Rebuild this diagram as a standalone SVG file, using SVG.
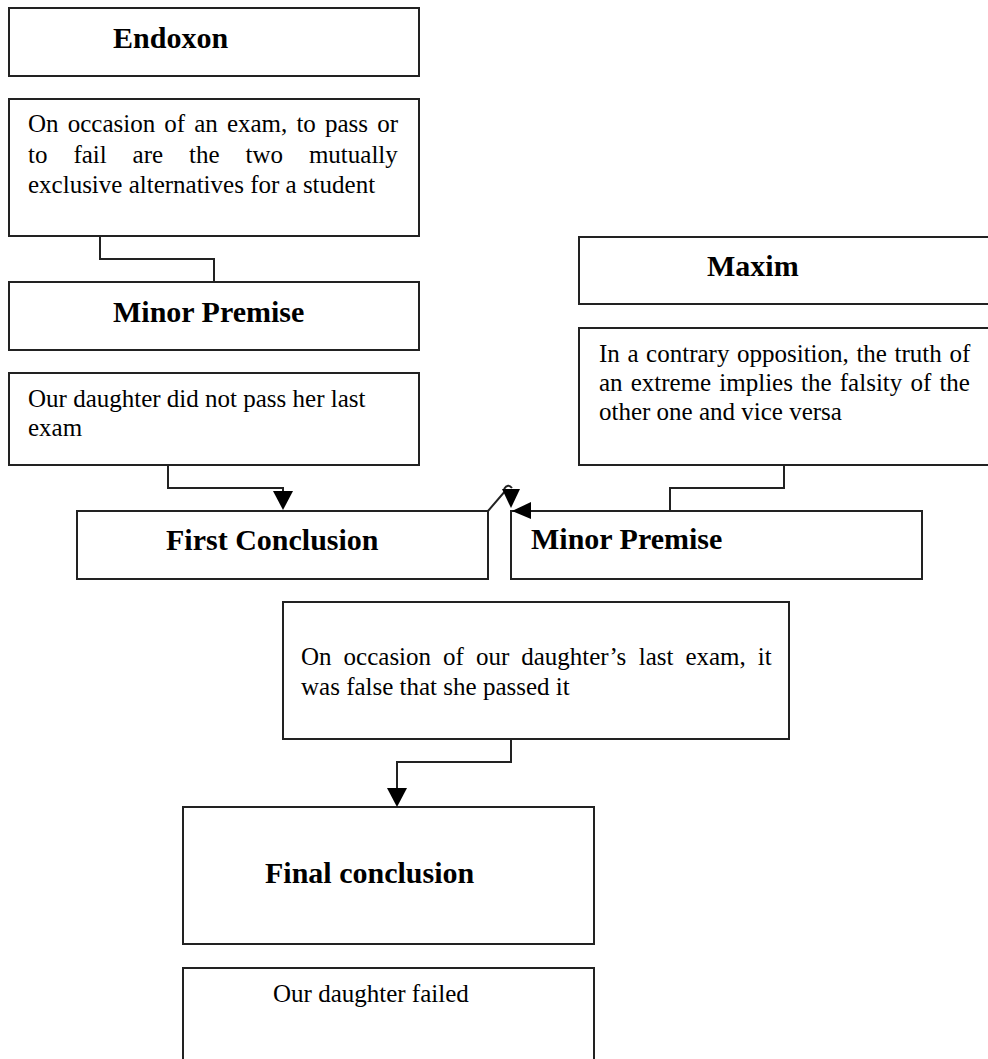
<svg xmlns="http://www.w3.org/2000/svg" width="988" height="1059" viewBox="0 0 988 1059">
<defs>
<style>
.box{fill:#fff;stroke:#222;stroke-width:2}
.line{fill:none;stroke:#222;stroke-width:2}
.head{fill:#000;stroke:none}
.h{font-family:"Liberation Serif","Times New Roman",serif;font-weight:bold;font-size:30px;fill:#000}
.t{font-family:"Liberation Serif","Times New Roman",serif;font-size:25px;fill:#000}
</style>
</defs>
<rect width="988" height="1059" fill="#fff"/>
<g id="endoxon">
<rect class="box" x="9" y="8" width="410" height="68"/>
<text class="h" x="113" y="48">Endoxon</text>
</g>
<g id="endoxon-text">
<rect class="box" x="9" y="99" width="410" height="137"/>
<text class="t" y="132"><tspan x="28">On</tspan><tspan x="67.7">occasion</tspan><tspan x="164.3">of</tspan><tspan x="194.2">an</tspan><tspan x="226.9">exam,</tspan><tspan x="296.4">to</tspan><tspan x="325">pass</tspan><tspan x="377.2">or</tspan></text>
<text class="t" y="163"><tspan x="28">to</tspan><tspan x="73.4">fail</tspan><tspan x="132.6">are</tspan><tspan x="189">the</tspan><tspan x="245.5">two</tspan><tspan x="308.9">mutually</tspan></text>
<text class="t" x="28" y="193">exclusive alternatives for a student</text>
</g>
<g id="minor-premise-1">
<rect class="box" x="9" y="282" width="410" height="68"/>
<text class="h" x="113" y="322">Minor Premise</text>
</g>
<g id="minor-premise-1-text">
<rect class="box" x="9" y="373" width="410" height="92"/>
<text class="t" x="28" y="407">Our daughter did not pass her last</text>
<text class="t" x="28" y="436">exam</text>
</g>
<g id="maxim">
<rect class="box" x="579" y="237" width="420" height="67"/>
<text class="h" x="707" y="276">Maxim</text>
</g>
<g id="maxim-text">
<rect class="box" x="579" y="328" width="420" height="137"/>
<text class="t" y="362"><tspan x="599">In</tspan><tspan x="627.4">a</tspan><tspan x="646.1">contrary</tspan><tspan x="737">opposition,</tspan><tspan x="856.4">the</tspan><tspan x="894.6">truth</tspan><tspan x="949.4">of</tspan></text>
<text class="t" y="391"><tspan x="599">an</tspan><tspan x="630.7">extreme</tspan><tspan x="719.3">implies</tspan><tspan x="801">the</tspan><tspan x="839.8">falsity</tspan><tspan x="910.4">of</tspan><tspan x="939.4">the</tspan></text>
<text class="t" x="599" y="420">other one and vice versa</text>
</g>
<g id="first-conclusion">
<rect class="box" x="77" y="511" width="411" height="68"/>
<text class="h" x="166" y="550">First Conclusion</text>
</g>
<g id="minor-premise-2">
<rect class="box" x="511" y="511" width="411" height="68"/>
<text class="h" x="531" y="549">Minor Premise</text>
</g>
<g id="first-conclusion-text">
<rect class="box" x="283" y="602" width="506" height="137"/>
<text class="t" y="665"><tspan x="301">On</tspan><tspan x="343.6">occasion</tspan><tspan x="443.1">of</tspan><tspan x="475.9">our</tspan><tspan x="521.2">daughter’s</tspan><tspan x="638.7">last</tspan><tspan x="685.4">exam,</tspan><tspan x="757.8">it</tspan></text>
<text class="t" x="301" y="695">was false that she passed it</text>
</g>
<g id="final-conclusion">
<rect class="box" x="183" y="807" width="411" height="137"/>
<text class="h" x="265" y="883">Final conclusion</text>
</g>
<g id="final-conclusion-text">
<rect class="box" x="183" y="968" width="411" height="110"/>
<text class="t" x="273" y="1002">Our daughter failed</text>
</g>
<g id="connectors">
<polyline class="line" points="100,236 100,259 214,259 214,282"/>
<polyline class="line" points="168,465 168,488 283,488 283,492"/>
<polygon class="head" points="273,491 293,491 283,510"/>
<polyline class="line" points="784,465 784,488 670,488 670,511"/>
<polyline class="line" points="488,511 506,490 511,490"/>
<polygon class="head" points="502,489 520,489 511,508"/>
<path class="line" d="M504,489 q4,-6 8,-1"/>
<polygon class="head" points="512,511 531,502 531,519"/>
<polyline class="line" points="511,739 511,762 397,762 397,790"/>
<polygon class="head" points="387,788 407,788 397,807"/>
</g>
</svg>
